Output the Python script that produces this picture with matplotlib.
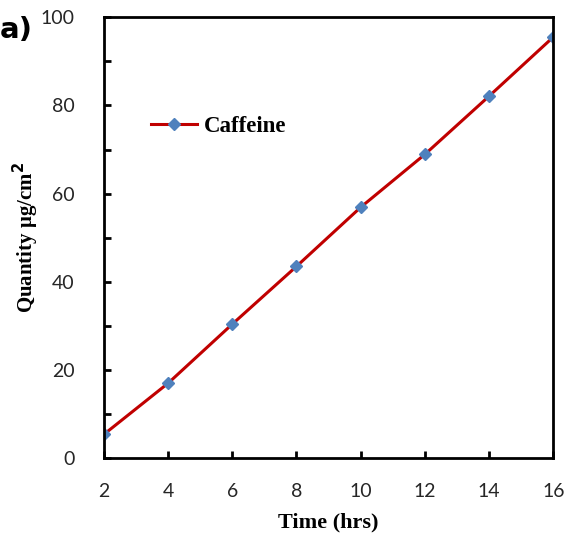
import matplotlib
matplotlib.use("Agg")
import matplotlib.pyplot as plt
from matplotlib.ticker import MultipleLocator

# Cumulative caffeine permeated over time
time_hrs = [2, 4, 6, 8, 10, 12, 14, 16]
caffeine = [5.4, 17.0, 30.4, 43.5, 56.9, 68.9, 82.1, 95.5]

fig = plt.figure(figsize=(5.68, 5.39), dpi=100)
ax = fig.add_axes([0.183, 0.150, 0.791, 0.818])

ax.plot(time_hrs, caffeine, color="#C00000", linewidth=2.2,
        marker="D", markersize=6.5, markerfacecolor="#4F81BD",
        markeredgecolor="#4F81BD", label="Caffeine")

ax.set_xlim(2, 16)
ax.set_ylim(0, 100)
ax.xaxis.set_major_locator(MultipleLocator(2))
ax.yaxis.set_major_locator(MultipleLocator(20))
ax.yaxis.set_minor_locator(MultipleLocator(10))

for s in ax.spines.values():
    s.set_linewidth(2)
ax.tick_params(axis="both", which="both", direction="in", width=2, length=5,
               labelsize=14, labelcolor="#262626")
ax.tick_params(axis="x", pad=18)
ax.tick_params(axis="y", pad=21)
for lbl in ax.get_xticklabels() + ax.get_yticklabels():
    lbl.set_family(["Lato", "DejaVu Sans"])

ax.set_xlabel("Time (hrs)", fontfamily="Liberation Serif", fontweight="bold",
              fontsize=16, labelpad=9)
ax.set_ylabel("Quantity μg/cm$^\\mathbf{2}$", fontfamily="Liberation Serif",
              fontweight="bold", fontsize=15)
ax.yaxis.set_label_coords(-0.14, 0.5)

leg = ax.legend(loc="center left", bbox_to_anchor=(0.08, 0.753), frameon=False,
                prop={"family": "Liberation Serif", "weight": "bold", "size": 16.5},
                handlelength=2.0, handletextpad=0.3, borderpad=0)

fig.text(0.0, 0.944, "a)", fontsize=21, fontweight="bold",
         fontfamily="DejaVu Sans", va="center", ha="left")

fig.savefig("out.png", dpi=100)
